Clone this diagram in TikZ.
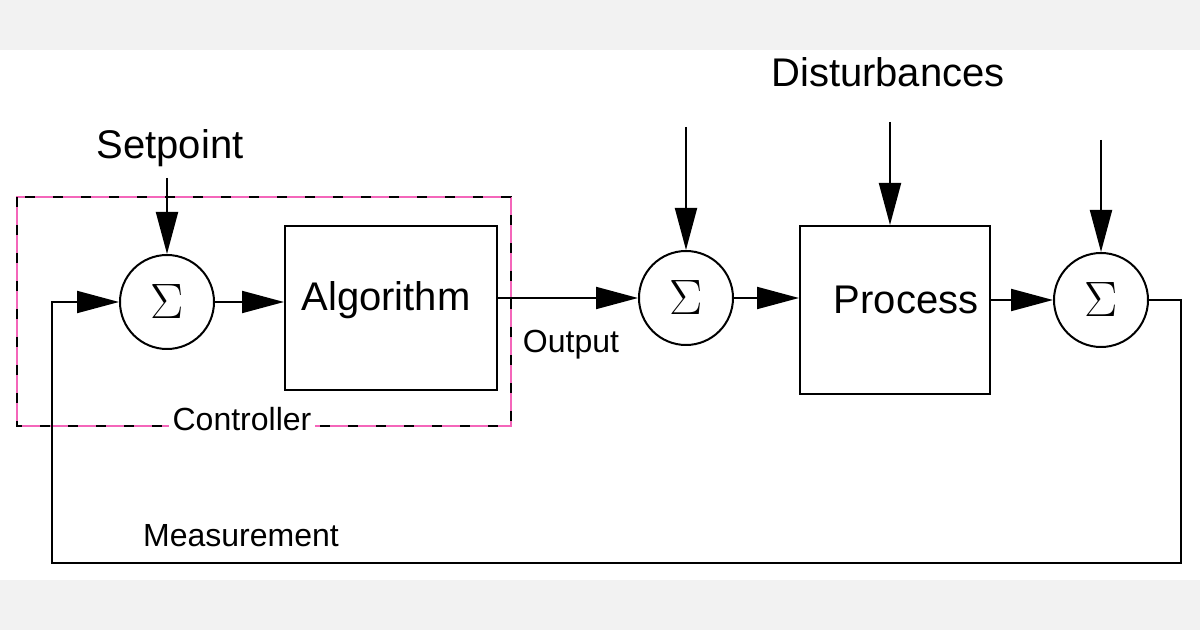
\documentclass[tikz,border=0pt]{standalone}
\usepackage{fontspec}
\setmainfont{Liberation Sans}
\usetikzlibrary{arrows.meta}
\begin{document}
\begin{tikzpicture}[
    x = 0.5pt, y = -0.5pt,
    line width = 1pt,
    sum/.style = {
      circle, draw = black, minimum size = 47pt, inner sep = 0pt,
      font = \fontsize{24}{24}\selectfont
    },
    blk/.style = {
      rectangle, draw = black, inner sep = 0pt,
      font = \fontsize{20}{20}\selectfont
    },
    lbl/.style = {font = \fontsize{16}{16}\selectfont, inner sep = 1pt},
    big/.style = {font = \fontsize{20}{20}\selectfont},
    sig/.style = {-{Triangle[length = 21pt, width = 11pt]}}
  ]

  % page and grey bands
  \fill[white] (0,0) rectangle (1200,630);
  \fill[gray!10] (0,0) rectangle (1200,50);
  \fill[gray!10] (0,580) rectangle (1200,630);

  % controller frame
  \draw[magenta!60, line width = 1.2pt] (17,197) rectangle (511,426);
  \draw[black, line width = 1pt, dash pattern = on 5pt off 9pt] (17,197) rectangle (511,426);
  \node[lbl, fill = white, inner sep = 2pt] (ctl) at (242,419) {Controller};

  \node[sum] (S1) at (167,302) {$\Sigma$};
  \node[blk, minimum width = 106pt, minimum height = 82pt] (A) at (391,308) {};
  \node[blk, draw = none] (Atxt) at (386,300) {Algorithm};
  \node[sum] (S2) at (686,298) {$\Sigma$};
  \node[blk, minimum width = 95pt, minimum height = 84pt] (P) at (895,310) {};
  \node[blk, draw = none] (Ptxt) at (906,300) {Process};
  \node[sum] (S3) at (1101,300) {$\Sigma$};

  \node[big] (sp) at (170,148) {Setpoint};
  \node[big] (dist) at (888,72) {Disturbances};
  \node[lbl] (out) at (571,345) {Output};
  \node[lbl] (meas) at (241,536) {Measurement};

  \coordinate (d1) at (686,127);
  \coordinate (d2) at (890,122);
  \coordinate (d3) at (1101,140);
  \coordinate (spin) at (167,178);

  \draw[sig] (spin) -- (S1.north);
  \draw[sig] (d1) -- (S2.north);
  \draw[sig] (d2) -- (d2 |- P.north);
  \draw[sig] (d3) -- (S3.north);

  \draw[sig] (S1.east) -- (S1.east -| A.west);
  \draw[sig] (S2.west -| A.east) -- (S2.west);
  \draw[sig] (S2.east) -- (S2.east -| P.west);
  \draw[sig] (S3.west -| P.east) -- (S3.west);

  % feedback loop
  \draw[sig] (S3.east) -- ++(32,0) |- (52,563) |- (S1.west);
\end{tikzpicture}
\end{document}
